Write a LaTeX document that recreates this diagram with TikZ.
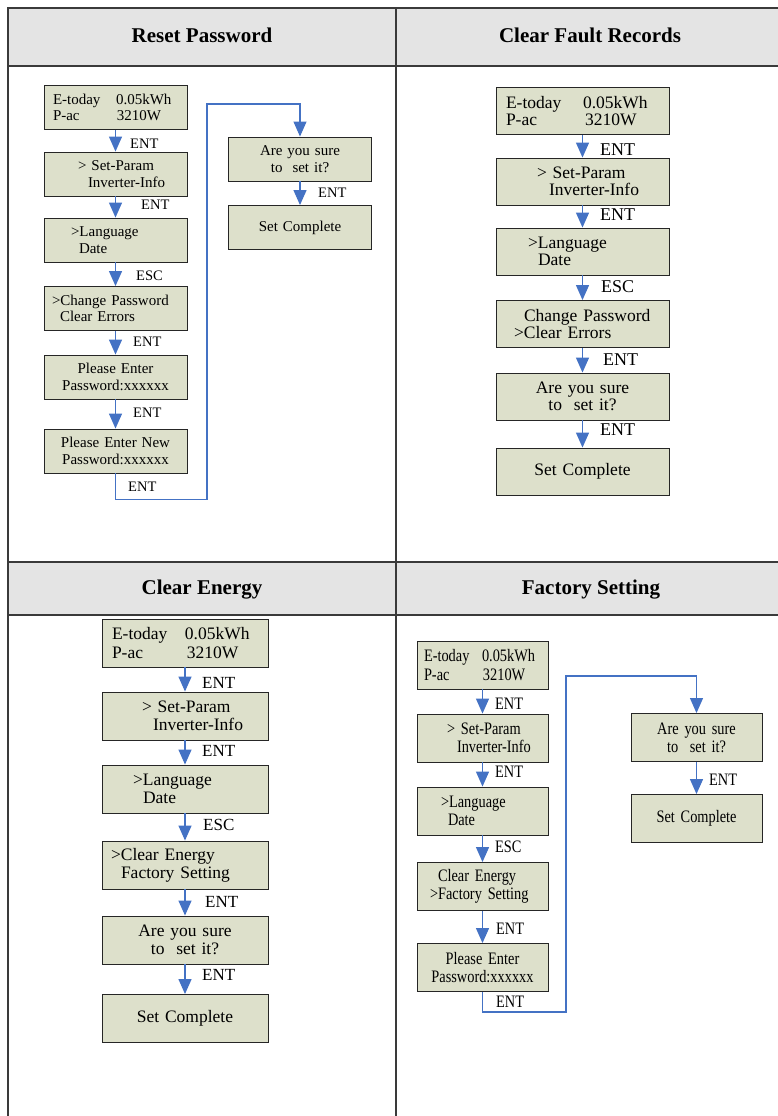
\documentclass[tikz,border=0pt]{standalone}
\usepackage{fontspec}
\setmainfont{Liberation Serif}
\newfontfamily\narrowserif{Liberation Serif}[FakeStretch=0.82, WordSpace=0.8]
\usetikzlibrary{arrows.meta}
\definecolor{lcdfill}{HTML}{DDE0CB}
\definecolor{flowblue}{HTML}{4472C4}
\definecolor{headgray}{HTML}{E4E4E4}
\definecolor{gridgray}{HTML}{3A3A3A}

\begin{document}
\begin{tikzpicture}[x=1pt, y=-1pt,
    lcd/.style={
      draw=black!85, line width=0.9pt, fill=lcdfill,
      inner xsep=0pt, inner ysep=0pt, align=left,
    },
    key/.style={anchor=west, inner sep=0pt},
    arr/.style={draw=flowblue, line width=1.3pt, -{Triangle[length=15pt,width=13pt]}},
    loop/.style={draw=flowblue, line width=1.1pt, -{Triangle[length=15pt,width=13pt]}},
    title/.style={anchor=base, font=\fontsize{21}{21}\selectfont\bfseries},
    grid/.style={draw=gridgray, line width=1.4pt},
  ]
  \useasboundingbox (0,0) rectangle (778,1116);

  % table frame
  \fill[headgray] (8,8) rectangle (778,66);
  \fill[headgray] (8,562) rectangle (778,615);
  \draw[grid] (8,1116) -- (8,8) -- (778,8);
  \draw[grid] (396,8) -- (396,1116);
  \draw[grid] (8,66) -- (778,66);
  \draw[grid] (8,562) -- (778,562);
  \draw[grid] (8,615) -- (778,615);

  % Reset Password
  \begin{scope}[
      lcd/.append style={minimum width=143pt, text width=143pt, minimum height=44pt,
        font=\fontsize{15}{16.5}\selectfont},
      key/.append style={font=\fontsize{14.5}{14.5}\selectfont},
    ]
    \node[title] (rpTitle) at (202,43) {Reset Password};
    \node[lcd] (rpHome)  at (115.5,107.5) {\hspace*{9pt}\makebox[63pt][l]{E-today}0.05kWh\\\hspace*{9pt}\makebox[64pt][l]{P-ac}3210W};
    \node[lcd] (rpMenu)  at (115.5,174)   {\hspace*{34pt}> Set-Param\\\hspace*{44pt}Inverter-Info};
    \node[lcd] (rpLang)  at (115.5,240)   {\hspace*{27pt}>Language\\\hspace*{35pt}Date};
    \node[lcd] (rpPwd)   at (115.5,308.5) {\hspace*{8pt}>Change Password\\\hspace*{16pt}Clear Errors};
    \node[lcd, align=center] (rpEnter) at (115.5,377) {Please Enter\\Password:xxxxxx};
    \node[lcd, align=center] (rpNew)   at (115.5,451) {Please Enter New\\Password:xxxxxx};
    \node[lcd, align=center] (rpSure)  at (300,159)   {Are you sure\\to~ set it?};
    \node[lcd, align=center] (rpDone)  at (300,227.5) {Set Complete};
    \coordinate (rpBend) at (207,104);

    \draw[arr] (rpHome.south)  -- (rpMenu.north);
    \draw[arr] (rpMenu.south)  -- (rpLang.north);
    \draw[arr] (rpLang.south)  -- (rpPwd.north);
    \draw[arr] (rpPwd.south)   -- (rpEnter.north);
    \draw[arr] (rpEnter.south) -- (rpNew.north);
    \draw[loop] (rpNew.south) -- ++(0,26) -| (rpBend) -| (rpSure.north);
    \draw[arr] (rpSure.south)  -- (rpDone.north);

    \node[key] (rpKey1) at (130,144) {ENT};
    \node[key] (rpKey2) at (141,205) {ENT};
    \node[key] (rpKey3) at (136,276) {ESC};
    \node[key] (rpKey4) at (133,342) {ENT};
    \node[key] (rpKey5) at (133,413) {ENT};
    \node[key] (rpKey6) at (128,487) {ENT};
    \node[key] (rpKey7) at (318,193) {ENT};
  \end{scope}

  % Clear Fault Records
  \begin{scope}[
      lcd/.append style={minimum width=173pt, text width=173pt, minimum height=47pt,
        font=\fontsize{17.5}{17.5}\selectfont},
      key/.append style={font=\fontsize{18}{18}\selectfont},
    ]
    \node[title] (cfTitle) at (590,43) {Clear Fault Records};
    \node[lcd] (cfHome) at (582.5,111)   {\hspace*{10pt}\makebox[77pt][l]{E-today}0.05kWh\\\hspace*{10pt}\makebox[79pt][l]{P-ac}3210W};
    \node[lcd] (cfMenu) at (582.5,181.5) {\hspace*{41pt}> Set-Param\\\hspace*{53pt}Inverter-Info};
    \node[lcd] (cfLang) at (582.5,251.5) {\hspace*{32pt}>Language\\\hspace*{42pt}Date};
    \node[lcd] (cfErr)  at (582.5,324)   {\hspace*{28pt}Change Password\\\hspace*{18pt}>Clear Errors};
    \node[lcd, align=center] (cfSure) at (582.5,396.5) {Are you sure\\to~ set it?};
    \node[lcd, align=center] (cfDone) at (582.5,471.5) {Set Complete};

    \draw[arr] (cfHome.south) -- (cfMenu.north);
    \draw[arr] (cfMenu.south) -- (cfLang.north);
    \draw[arr] (cfLang.south) -- (cfErr.north);
    \draw[arr] (cfErr.south)  -- (cfSure.north);
    \draw[arr] (cfSure.south) -- (cfDone.north);

    \node[key] (cfKey1) at (600,150) {ENT};
    \node[key] (cfKey2) at (600,215) {ENT};
    \node[key] (cfKey3) at (601,287) {ESC};
    \node[key] (cfKey4) at (603,360) {ENT};
    \node[key] (cfKey5) at (600,430) {ENT};
  \end{scope}

  % Clear Energy
  \begin{scope}[
      lcd/.append style={minimum width=166pt, text width=166pt, minimum height=48pt,
        font=\fontsize{17.5}{18.3}\selectfont},
      key/.append style={font=\fontsize{17}{17}\selectfont},
    ]
    \node[title] (ceTitle) at (202,594) {Clear Energy};
    \node[lcd] (ceHome) at (185,643)  {\hspace*{10pt}\makebox[73pt][l]{E-today}0.05kWh\\\hspace*{10pt}\makebox[75pt][l]{P-ac}3210W};
    \node[lcd] (ceMenu) at (185,716)  {\hspace*{40pt}> Set-Param\\\hspace*{51pt}Inverter-Info};
    \node[lcd] (ceLang) at (185,789)  {\hspace*{31pt}>Language\\\hspace*{41pt}Date};
    \node[lcd] (ceSel)  at (185,865)  {\hspace*{9pt}>Clear Energy\\\hspace*{19pt}Factory Setting};
    \node[lcd, align=center] (ceSure) at (185,940)    {Are you sure\\to~ set it?};
    \node[lcd, align=center] (ceDone) at (185,1018.5) {Set Complete};

    \draw[arr] (ceHome.south) -- (ceMenu.north);
    \draw[arr] (ceMenu.south) -- (ceLang.north);
    \draw[arr] (ceLang.south) -- (ceSel.north);
    \draw[arr] (ceSel.south)  -- (ceSure.north);
    \draw[arr] (ceSure.south) -- (ceDone.north);

    \node[key] (ceKey1) at (202,683) {ENT};
    \node[key] (ceKey2) at (202,751) {ENT};
    \node[key] (ceKey3) at (203,825) {ESC};
    \node[key] (ceKey4) at (205,902) {ENT};
    \node[key] (ceKey5) at (202,975) {ENT};
  \end{scope}

  % Factory Setting
  \begin{scope}[
      lcd/.append style={minimum width=131pt, text width=131pt, minimum height=48pt,
        font=\narrowserif\fontsize{17.5}{18.3}\selectfont},
      key/.append style={font=\narrowserif\fontsize{17.5}{17.5}\selectfont},
    ]
    \node[title] (fsTitle) at (591,594) {Factory Setting};
    \node[lcd] (fsHome) at (482.5,665)   {\hspace*{7pt}\makebox[58pt][l]{E-today}0.05kWh\\\hspace*{7pt}\makebox[59pt][l]{P-ac}3210W};
    \node[lcd] (fsMenu) at (482.5,738)   {\hspace*{30pt}> Set-Param\\\hspace*{40pt}Inverter-Info};
    \node[lcd] (fsLang) at (482.5,811)   {\hspace*{24pt}>Language\\\hspace*{31pt}Date};
    \node[lcd] (fsSel)  at (482.5,886.5) {\hspace*{21pt}Clear Energy\\\hspace*{13pt}>Factory Setting};
    \node[lcd, align=center] (fsPass) at (482.5,967.5) {Please Enter\\Password:xxxxxx};
    \node[lcd, align=center] (fsSure) at (696.5,737.5) {Are you sure\\to~ set it?};
    \node[lcd, align=center] (fsDone) at (696.5,818.5) {Set Complete};
    \coordinate (fsBend) at (566,676);

    \draw[arr] (fsHome.south) -- (fsMenu.north);
    \draw[arr] (fsMenu.south) -- (fsLang.north);
    \draw[arr] (fsLang.south) -- (fsSel.north);
    \draw[arr] (fsSel.south)  -- (fsPass.north);
    \draw[loop] (fsPass.south) -- ++(0,20) -| (fsBend) -| (fsSure.north);
    \draw[arr] (fsSure.south) -- (fsDone.north);

    \node[key] (fsKey1) at (495,704)  {ENT};
    \node[key] (fsKey2) at (495,772)  {ENT};
    \node[key] (fsKey3) at (495,847)  {ESC};
    \node[key] (fsKey4) at (496,929)  {ENT};
    \node[key] (fsKey5) at (496,1002) {ENT};
    \node[key] (fsKey6) at (709,780)  {ENT};
  \end{scope}
\end{tikzpicture}
\end{document}
